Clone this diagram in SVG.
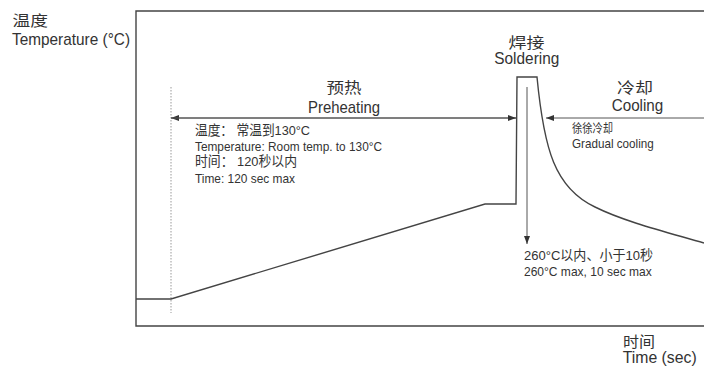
<svg xmlns="http://www.w3.org/2000/svg" width="704" height="369" viewBox="0 0 704 369">
<style>
text{font-family:"Liberation Sans","Noto Sans CJK SC",sans-serif;fill:#333}
.big{font-size:17px}
.cjk{font-size:15px;font-family:"Noto Sans CJK SC",sans-serif}
.sm{font-size:13.5px}
.smc{font-size:12.5px;font-family:"Noto Sans CJK SC",sans-serif}
.mid{text-anchor:middle}
.ln{fill:none;stroke:#444;stroke-width:1.4}
.ar{fill:none;stroke:#555;stroke-width:1}
.dot{fill:none;stroke:#999;stroke-width:1;stroke-dasharray:1.5 1.5}
</style>
<defs>
<marker id="ah" viewBox="0 0 8 6" refX="8" refY="3" markerWidth="8" markerHeight="6" markerUnits="userSpaceOnUse" orient="auto">
<path d="M0,0 L8,3 L0,6 z" fill="#333"/>
</marker>
</defs>
<rect width="704" height="369" fill="#fff"/>
<g id="axes">
<path class="ln" d="M704,11 H136 V326 H704" stroke-width="1.6"/>
<line class="dot" x1="171" y1="87" x2="171" y2="313"/>
</g>
<g id="profile">
<path class="ln" d="M136,299 H171 L485,204 H516 L517,77 H537 C544,150 555,188 595,207 C625,222 670,233 704,243"/>
</g>
<g id="connectors">
<line class="ar" x1="516" y1="118" x2="171" y2="118" marker-end="url(#ah)"/>
<line class="ar" x1="171" y1="118" x2="516" y2="118" marker-end="url(#ah)"/>
<line class="ar" x1="704" y1="118" x2="546" y2="118" marker-end="url(#ah)"/>
<line class="ar" x1="527" y1="87" x2="527" y2="244" marker-end="url(#ah)"/>
</g>
<g id="axis-labels">
<text class="cjk" x="12.5" y="25.5" textLength="35.5" lengthAdjust="spacingAndGlyphs">温度</text>
<text class="big" x="12" y="45" textLength="118" lengthAdjust="spacingAndGlyphs">Temperature (°C)</text>
<text class="cjk" x="623" y="346.5" textLength="32" lengthAdjust="spacingAndGlyphs">时间</text>
<text class="big" x="622.7" y="363" textLength="74" lengthAdjust="spacingAndGlyphs">Time (sec)</text>
</g>
<g id="preheating">
<text class="cjk mid" x="344" y="93" textLength="35" lengthAdjust="spacingAndGlyphs">预热</text>
<text class="big mid" x="344" y="112.5" textLength="72" lengthAdjust="spacingAndGlyphs">Preheating</text>
<text class="sm" x="195" y="135" textLength="115" lengthAdjust="spacingAndGlyphs">温度： 常温到130°C</text>
<text class="sm" x="195" y="150.5" textLength="187" lengthAdjust="spacingAndGlyphs">Temperature: Room temp. to 130°C</text>
<text class="sm" x="195" y="166" textLength="102" lengthAdjust="spacingAndGlyphs">时间： 120秒以内</text>
<text class="sm" x="195" y="182.5" textLength="100" lengthAdjust="spacingAndGlyphs">Time: 120 sec max</text>
</g>
<g id="soldering">
<text class="cjk mid" x="526.5" y="47.5" textLength="36" lengthAdjust="spacingAndGlyphs">焊接</text>
<text class="big mid" x="526.8" y="64" textLength="65" lengthAdjust="spacingAndGlyphs">Soldering</text>
<text class="sm" x="524" y="260" textLength="129" lengthAdjust="spacingAndGlyphs">260°C以内、小于10秒</text>
<text class="sm" x="524" y="275.5" textLength="127.7" lengthAdjust="spacingAndGlyphs">260°C max, 10 sec max</text>
</g>
<g id="cooling">
<text class="cjk mid" x="635" y="93" textLength="36" lengthAdjust="spacingAndGlyphs">冷却</text>
<text class="big mid" x="637.5" y="111" textLength="51.6" lengthAdjust="spacingAndGlyphs">Cooling</text>
<text class="smc" x="572" y="133" textLength="41" lengthAdjust="spacingAndGlyphs">徐徐冷却</text>
<text class="sm" x="572" y="148" textLength="81.7" lengthAdjust="spacingAndGlyphs">Gradual cooling</text>
</g>
</svg>
